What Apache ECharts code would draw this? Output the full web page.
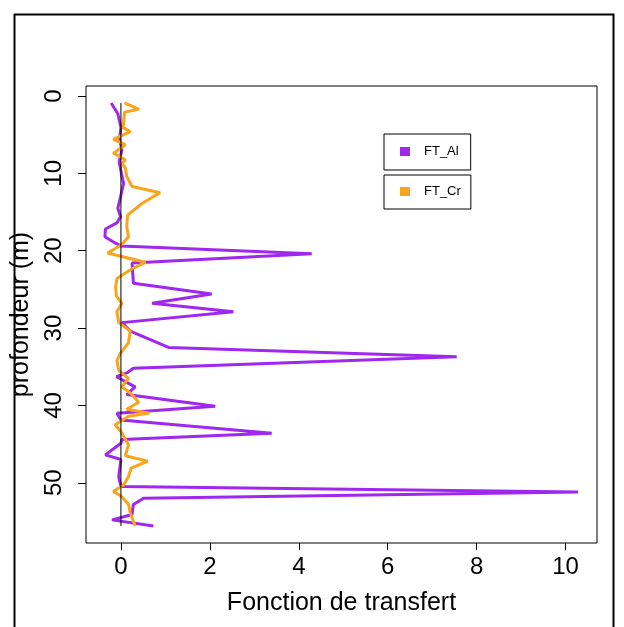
<!DOCTYPE html>
<html>
<head>
<meta charset="utf-8">
<script src="https://cdn.jsdelivr.net/npm/echarts@6/dist/echarts.min.js"></script>
<style>
html,body{margin:0;padding:0;background:#fff;}
#chart{width:624px;height:627px;}
</style>
</head>
<body>
<div id="chart"></div>
<script>
// FT_Al: depth (m) and transfer function value
const depthAl = [0.9, 2.3, 4.1, 5.5, 7.0, 8.5, 10.0, 11.3, 12.8, 14.5, 15.6, 16.4, 17.2, 18.2, 19.0, 19.4, 20.4, 21.6, 24.2, 25.6, 26.8, 27.9, 29.3, 30.4, 32.5, 33.7, 35.2, 35.8, 36.3, 37.6, 38.6, 40.1, 41.0, 41.9, 43.6, 44.4, 44.9, 46.4, 47.0, 49.2, 50.5, 51.2, 52.0, 52.8, 54.1, 54.8, 55.6];
const valAl   = [-0.22, -0.07, 0.0, -0.03, 0.02, -0.04, 0.01, 0.06, 0.0, -0.07, -0.01, -0.09, -0.35, -0.36, -0.13, 0.0, 4.29, 0.25, 0.28, 2.04, 0.70, 2.53, 0.02, 0.21, 1.07, 7.55, 0.28, 0.13, -0.10, 0.32, 0.13, 2.12, -0.09, 0.0, 3.39, 0.02, 0.0, -0.35, 0.0, -0.05, 0.0, 10.28, 0.51, 0.28, 0.25, -0.20, 0.73];
// FT_Cr
const depthCr = [0.9, 1.7, 2.1, 4.1, 4.6, 5.6, 6.3, 7.4, 7.9, 8.3, 8.7, 9.3, 10.4, 11.7, 12.5, 13.9, 15.4, 16.9, 18.2, 19.3, 20.3, 21.5, 22.4, 23.6, 24.7, 25.9, 26.8, 27.9, 29.3, 30.4, 31.9, 33.3, 34.2, 35.5, 36.5, 37.6, 38.5, 39.6, 40.5, 41.0, 41.4, 42.5, 43.4, 45.1, 46.5, 47.2, 48.1, 49.2, 50.3, 51.1, 51.8, 52.8, 53.9, 55.6];
const valCr   = [0.08, 0.40, 0.08, 0.05, 0.21, -0.17, 0.10, -0.17, 0.0, 0.10, 0.02, 0.10, 0.13, 0.25, 0.88, 0.47, 0.15, 0.13, 0.17, 0.0, -0.30, 0.55, 0.23, -0.09, -0.12, -0.10, 0.02, -0.09, -0.05, 0.21, 0.17, -0.02, -0.09, -0.05, 0.17, 0.02, 0.23, 0.40, 0.13, 0.64, 0.17, -0.13, 0.0, 0.17, 0.10, 0.60, 0.23, 0.17, 0.06, -0.17, 0.02, 0.17, 0.21, 0.32];

const seriesNames = ['FT_Al', 'FT_Cr'];
const xTicks = [0, 2, 4, 6, 8, 10];
const yTicks = [0, 10, 20, 30, 40, 50];
const xTitle = 'Fonction de transfert';
const yTitle = 'profondeur (m)';

function pad(arr) {
  const lo = Math.min(...arr), hi = Math.max(...arr);
  const d = (hi - lo) * 0.04;
  return [lo - d, hi + d];
}
const xr = pad(valAl.concat(valCr));
const yr = pad(depthAl.concat(depthCr));

const FONT = 'Liberation Sans, Arial, sans-serif';
const chart = echarts.init(document.getElementById('chart'), null, {renderer: 'canvas'});

const pairs = (xs, ys) => xs.map((v, i) => [v, ys[i]]);

chart.setOption({
  animation: false,
  backgroundColor: '#fff',
  graphic: [{
    type: 'rect', left: 12, top: 12, z: 100,
    shape: {width: 599, height: 640},
    style: {fill: 'none', stroke: '#000', lineWidth: 2}
  }],
  grid: {left: 86, top: 86, width: 511, height: 457, show: true, borderColor: '#000', borderWidth: 1, backgroundColor: 'transparent'},
  legend: [
    {data: [seriesNames[0]], left: 384, top: 134, borderColor: '#000', borderWidth: 1,
     padding: [11, 12, 12, 16], icon: 'rect', itemWidth: 10, itemHeight: 9,
     textStyle: {fontFamily: FONT, fontSize: 13, color: '#000', padding: [0, 0, 0, 9]}},
    {data: [seriesNames[1]], left: 384, top: 175, borderColor: '#000', borderWidth: 1,
     padding: [10, 10, 11, 16], icon: 'rect', itemWidth: 10, itemHeight: 9,
     textStyle: {fontFamily: FONT, fontSize: 13, color: '#000', padding: [0, 0, 0, 9]}}
  ],
  xAxis: {
    type: 'value', min: xr[0], max: xr[1],
    name: xTitle, nameLocation: 'middle', nameGap: 48,
    nameTextStyle: {fontFamily: FONT, fontSize: 25, color: '#000'},
    axisLine: {show: false, onZero: false},
    axisTick: {show: true, length: 7, lineStyle: {color: '#000'}, customValues: xTicks},
    axisLabel: {fontFamily: FONT, fontSize: 24, color: '#000', margin: 12, customValues: xTicks},
    splitLine: {show: false}
  },
  yAxis: {
    type: 'value', inverse: true, min: yr[0], max: yr[1],
    name: yTitle, nameLocation: 'middle', nameGap: 47,
    nameTextStyle: {fontFamily: FONT, fontSize: 25, color: '#000'},
    axisLine: {show: false, onZero: false},
    axisTick: {show: true, length: 8, lineStyle: {color: '#000'}, customValues: yTicks},
    axisLabel: {fontFamily: FONT, fontSize: 24, color: '#000', margin: 20, rotate: 90, customValues: yTicks},
    splitLine: {show: false}
  },
  series: [
    {name: seriesNames[0], type: 'line', data: pairs(valAl, depthAl), showSymbol: false, symbol: 'none',
     color: '#9F27EE', lineStyle: {width: 3, color: '#9F27EE'}, z: 2},
    {name: seriesNames[1], type: 'line', data: pairs(valCr, depthCr), showSymbol: false, symbol: 'none',
     color: '#F8A51C', lineStyle: {width: 3, color: '#F8A51C'}, z: 3},
    {name: 'zero', type: 'line', data: [[0, depthAl[0]], [0, depthAl[depthAl.length - 1]]],
     showSymbol: false, symbol: 'none', color: '#000', lineStyle: {width: 1, color: '#000'}, z: 4}
  ]
});
</script>
</body>
</html>
